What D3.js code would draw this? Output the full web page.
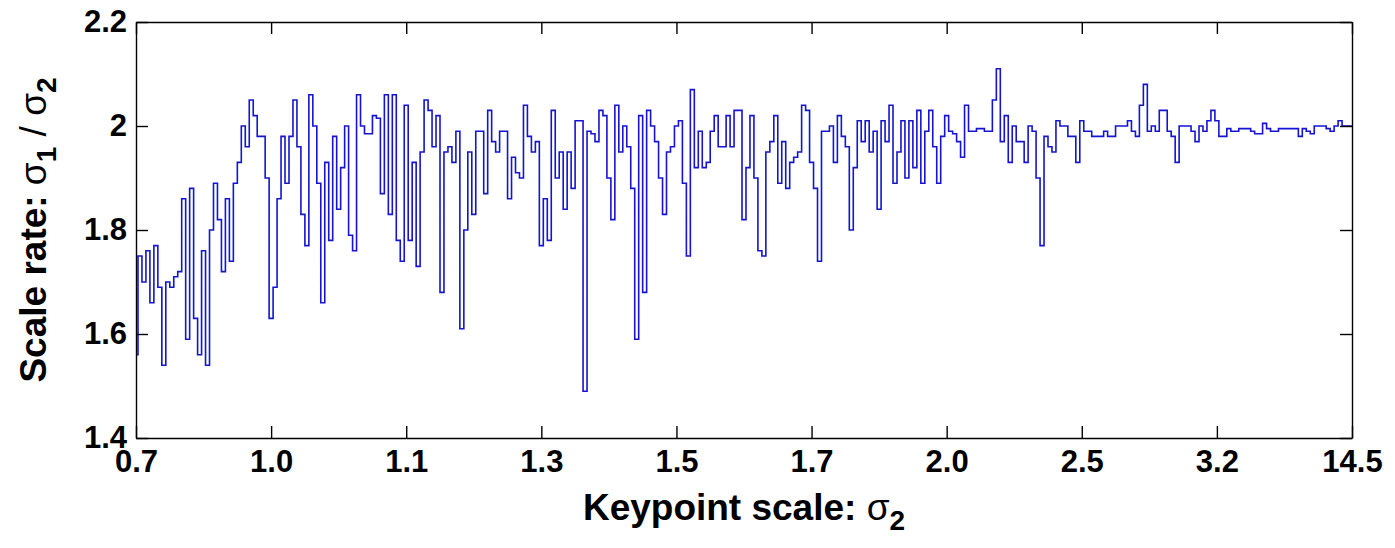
<!DOCTYPE html>
<html>
<head>
<meta charset="utf-8">
<script src="https://cdn.jsdelivr.net/npm/d3@7"></script>
<style>
  body { margin: 0; background: #fff; }
  text { font-family: "Liberation Sans", Arial, sans-serif; }
  .axis path, .axis line { stroke: #000; stroke-width: 1.4; }
  .axis text { font-size: 31px; font-weight: bold; fill: #000; }
</style>
</head>
<body>
<div id="chart"></div>
<script>
// tick labels of the keypoint scale axis (evenly spaced, index based)
var scaleLabels = ["0.7", "1.0", "1.1", "1.3", "1.5", "1.7", "2.0", "2.5", "3.2", "14.5"];
var rateTicks = [1.4, 1.6, 1.8, 2, 2.2];

// scale rate, one small array per interval between two x tick labels
var rate07to10 = [1.56, 1.75, 1.70, 1.76, 1.66, 1.77, 1.69, 1.54, 1.70, 1.69,
  1.71, 1.72, 1.86, 1.59, 1.88, 1.63, 1.56, 1.76, 1.54, 1.80,
  1.89, 1.82, 1.72, 1.86, 1.74, 1.89, 1.93, 2.00, 1.96, 2.05,
  2.02, 1.98, 1.98, 1.90];
var rate10to11 = [1.63, 1.69, 1.86, 1.98, 1.89, 1.98, 2.05, 1.96, 1.83, 1.77,
  2.06, 2.00, 1.89, 1.66, 1.93, 1.78, 1.98, 1.84, 1.92, 2.00,
  1.79, 1.76, 2.06, 2.00, 1.985, 1.985, 2.02, 2.015, 1.87, 2.06,
  1.83, 2.06, 1.78, 1.74];
var rate11to13 = [2.04, 1.78, 1.93, 1.73, 1.95, 2.05, 2.03, 1.96, 2.02, 1.68,
  1.95, 1.96, 1.93, 1.99, 1.61, 1.80, 1.95, 1.83, 1.99, 1.99,
  1.87, 2.03, 1.97, 1.95, 1.99, 1.99, 1.86, 1.94, 1.91, 1.90,
  2.04, 1.98, 1.95, 1.97];
var rate13to15 = [1.77, 1.86, 1.78, 2.03, 1.90, 1.95, 1.84, 1.95, 1.88, 2.01,
  2.01, 1.49, 1.99, 1.985, 1.97, 2.03, 2.02, 1.90, 1.82, 2.04,
  1.95, 2.00, 1.96, 1.88, 1.59, 2.02, 1.68, 2.03, 2.00, 1.97,
  1.90, 1.83, 1.95, 1.96];
var rate15to17 = [2.00, 2.01, 1.89, 1.75, 2.07, 1.92, 1.99, 1.92, 1.93, 1.99,
  2.02, 1.96, 1.96, 2.02, 1.96, 2.03, 2.03, 1.82, 1.92, 2.02,
  1.90, 1.76, 1.75, 1.95, 1.97, 2.02, 1.89, 1.97, 1.88, 1.93,
  1.94, 1.95, 2.04, 2.03];
var rate17to20 = [1.93, 1.88, 1.74, 1.99, 1.99, 2.00, 1.93, 2.02, 1.98, 1.96,
  1.80, 1.92, 2.01, 1.97, 2.01, 1.95, 1.99, 1.84, 2.01, 1.97,
  2.04, 1.89, 1.95, 2.01, 1.90, 2.01, 1.92, 2.03, 1.89, 1.99,
  2.03, 1.96, 1.89, 1.98];
var rate20to25 = [2.02, 1.99, 1.985, 1.97, 1.94, 2.04, 1.99, 1.99, 1.995, 1.995,
  1.99, 1.99, 2.05, 2.11, 1.97, 2.02, 1.93, 2.00, 1.97, 1.97,
  1.93, 2.00, 1.99, 1.90, 1.77, 1.98, 1.96, 1.95, 2.01, 2.00,
  2.00, 1.98, 1.98, 1.93];
var rate25to32 = [2.01, 1.99, 1.99, 1.98, 1.98, 1.98, 1.99, 1.98, 1.98, 2.00,
  2.00, 2.00, 2.01, 1.99, 1.98, 2.04, 2.08, 1.99, 2.00, 1.99,
  2.03, 2.03, 1.99, 1.98, 1.93, 2.00, 2.00, 2.00, 1.99, 1.97,
  2.00, 1.99, 2.01, 2.03];
var rate32to145 = [2.01, 1.98, 1.98, 1.995, 1.99, 1.99, 1.995, 1.995, 1.995, 1.99,
  1.985, 1.985, 2.005, 1.995, 1.99, 1.99, 1.995, 1.995, 1.995, 1.995,
  1.995, 1.98, 1.995, 1.99, 1.985, 2.00, 2.00, 2.00, 1.995, 1.99,
  2.00, 2.01, 2.00, 2.00, 2.00];

var rates = [].concat(rate07to10, rate10to11, rate11to13, rate13to15, rate15to17,
  rate17to20, rate20to25, rate25to32, rate32to145);

var svgWidth = 1395;
var svgHeight = 548;

var margin = {
  top: 22,
  right: 43,
  bottom: 110,
  left: 136
};

var width = svgWidth - margin.left - margin.right;
var height = svgHeight - margin.top - margin.bottom;

var svg = d3.select("#chart")
  .append("svg")
  .attr("width", svgWidth)
  .attr("height", svgHeight)
  .style("display", "block");

svg.append("rect")
  .attr("width", svgWidth)
  .attr("height", svgHeight)
  .attr("fill", "#fff");

var chartGroup = svg.append("g")
  .attr("transform", `translate(${margin.left}, ${margin.top})`);

var n = rates.length - 1;
var segLen = n / (scaleLabels.length - 1);

var xScale = d3.scaleLinear()
  .domain([0, n])
  .range([0, width]);

var yScale = d3.scaleLinear()
  .domain([1.4, 2.2])
  .range([height, 0]);

var tickIdx = scaleLabels.map((d, i) => i * segLen);

var bottomAxis = d3.axisBottom(xScale)
  .tickValues(tickIdx)
  .tickFormat((d, i) => scaleLabels[i])
  .tickSizeInner(-12)
  .tickSizeOuter(0)
  .tickPadding(12);

var topAxis = d3.axisTop(xScale)
  .tickValues(tickIdx)
  .tickFormat("")
  .tickSizeInner(-12)
  .tickSizeOuter(0);

var leftAxis = d3.axisLeft(yScale)
  .tickValues(rateTicks)
  .tickFormat(d => String(d))
  .tickSizeInner(-12)
  .tickSizeOuter(0)
  .tickPadding(9);

var rightAxis = d3.axisRight(yScale)
  .tickValues(rateTicks)
  .tickFormat("")
  .tickSizeInner(-12)
  .tickSizeOuter(0);

// the line first, axes box on top
var line = d3.line()
  .x((d, i) => xScale(i))
  .y(d => yScale(d))
  .curve(d3.curveStep);

chartGroup.append("path")
  .datum(rates)
  .attr("fill", "none")
  .attr("stroke", "#1414d2")
  .attr("stroke-width", 1.6)
  .attr("d", line);

chartGroup.append("g")
  .attr("class", "axis")
  .attr("transform", `translate(0, ${height})`)
  .call(bottomAxis);

chartGroup.append("g")
  .attr("class", "axis")
  .call(topAxis);

chartGroup.append("g")
  .attr("class", "axis")
  .call(leftAxis);

chartGroup.append("g")
  .attr("class", "axis")
  .attr("transform", `translate(${width}, 0)`)
  .call(rightAxis);

chartGroup.selectAll(".axis text").attr("fill", "#000");

// x label
var xLabel = svg.append("text")
  .attr("x", margin.left + width / 2)
  .attr("y", 520)
  .attr("text-anchor", "middle")
  .style("font-size", "37px")
  .style("font-weight", "bold");
xLabel.append("tspan").text("Keypoint scale: ");
xLabel.append("tspan").style("font-weight", "normal").text("σ");
xLabel.append("tspan").attr("dy", 10).style("font-size", "28px").text("2");

// y label
var yLabel = svg.append("text")
  .attr("transform", `translate(46, ${margin.top + height / 2}) rotate(-90)`)
  .attr("text-anchor", "middle")
  .style("font-size", "37px")
  .style("font-weight", "bold");
yLabel.append("tspan").text("Scale rate: ");
yLabel.append("tspan").style("font-weight", "normal").text("σ");
yLabel.append("tspan").attr("dy", 10).style("font-size", "28px").text("1");
yLabel.append("tspan").attr("dy", -10).style("font-weight", "normal").text(" / ");
yLabel.append("tspan").style("font-weight", "normal").text("σ");
yLabel.append("tspan").attr("dy", 10).style("font-size", "28px").text("2");
</script>
</body>
</html>
